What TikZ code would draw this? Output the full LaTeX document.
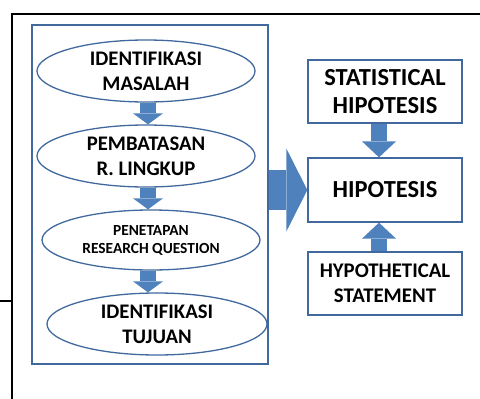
\documentclass[tikz,border=0pt]{standalone}
\usepackage{fontspec}
\setmainfont{Carlito}
\usetikzlibrary{shapes.geometric,arrows.meta}
\definecolor{lineblue}{HTML}{41699E}
\definecolor{arrowblue}{HTML}{4F81BD}
\begin{document}
\begin{tikzpicture}[x=1pt,y=-1pt,
    stage/.style={ellipse, draw=lineblue, line width=1.3pt, fill=white, inner sep=0pt, align=center,
        minimum width=218pt, minimum height=62pt, font=\bfseries\fontsize{20.7}{25}\selectfont},
    hbox/.style={rectangle, draw=lineblue, line width=1.3pt, fill=white, inner sep=0pt, align=center,
        minimum width=154pt, minimum height=63pt, font=\bfseries\fontsize{24.5}{28}\selectfont},
    blockarrow/.style n args={3}{arrowblue, line width=#1,
        -{Triangle[width=#2 0 0, length=#3 0 0, line width=0pt]}}]
    \useasboundingbox (0,0) rectangle (480,399);

    % Outer frame
    \draw[line width=1.5pt] (480,14) -- (12,14) -- (12,399);
    \draw[line width=1.5pt] (0,301) -- (12,301);

    % Left frame
    \node[draw=lineblue, line width=1.3pt, minimum width=236pt, minimum height=339pt] (frame) at (150,194.5) {};

    % Stages
    \node[stage] (m1) at (146,71) {IDENTIFIKASI\\MASALAH};
    \node[stage] (m2) at (146,156) {PEMBATASAN\\R. LINGKUP};
    \node[stage, minimum height=60pt, font=\bfseries\fontsize{15.4}{18}\selectfont] (m3) at (151,240) {PENETAPAN\\RESEARCH QUESTION};
    \node[stage, minimum width=220pt] (m4) at (157,324) {IDENTIFIKASI\\TUJUAN};

    % Edges
    \draw[blockarrow={16pt}{30pt}{11pt}] ([xshift=2pt]m1.south) -- ([xshift=2pt]m1.south |- m2.north);
    \draw[blockarrow={16pt}{30pt}{11pt}] ([xshift=2pt]m2.south) -- ([xshift=2pt]m2.south |- m3.north);
    \draw[blockarrow={16pt}{30pt}{11pt}] ([xshift=-3pt]m3.south) -- ([xshift=-3pt]m3.south |- m4.north);

    % Right boxes
    \node[hbox] (stat) at (385,91.5) {STATISTICAL\\HIPOTESIS};
    \node[hbox, minimum height=64pt] (hipo) at (385,190) {HIPOTESIS};
    \node[hbox, font=\bfseries\fontsize{20.8}{25}\selectfont] (stmt) at (385,283.5) {HYPOTHETICAL\\STATEMENT};

    % Edges
    \draw[blockarrow={16pt}{34pt}{16pt}] ([xshift=-6pt]stat.south) -- ([xshift=-6pt]hipo.north);
    \draw[blockarrow={16pt}{34pt}{16pt}] ([xshift=-6pt]stmt.north) -- ([xshift=-6pt]hipo.south);
    \draw[blockarrow={40pt}{83pt}{21pt}] (frame.east |- hipo) -- (hipo.west);
\end{tikzpicture}
\end{document}
